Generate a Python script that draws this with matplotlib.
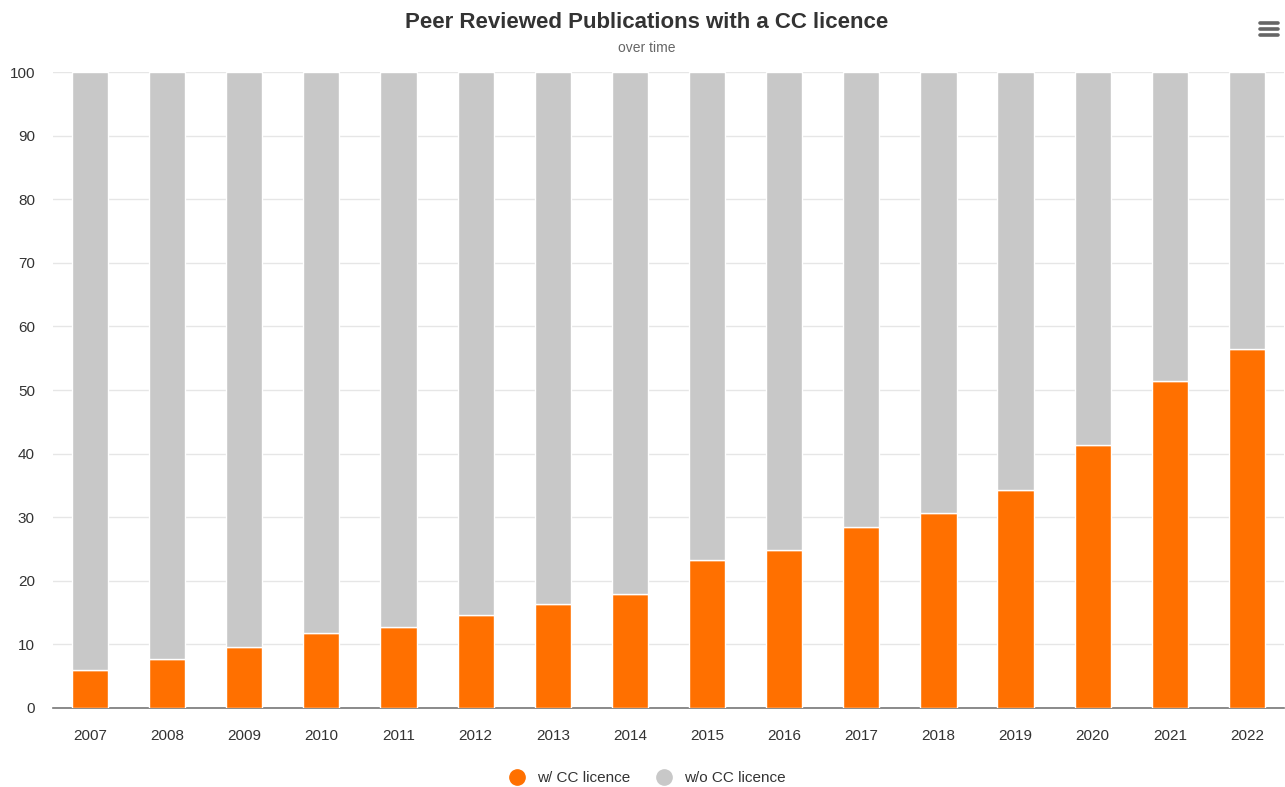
import numpy as np
import matplotlib
matplotlib.use("Agg")
import matplotlib.pyplot as plt
from matplotlib.lines import Line2D

plt.rcParams['font.family'] = ['Liberation Sans', 'DejaVu Sans']

years = ['2007', '2008', '2009', '2010', '2011', '2012', '2013', '2014',
         '2015', '2016', '2017', '2018', '2019', '2020', '2021', '2022']
with_cc = [6.0, 7.7, 9.6, 11.8, 12.7, 14.7, 16.3, 18.0,
           23.2, 24.8, 28.4, 30.6, 34.3, 41.3, 51.4, 56.4]
without_cc = [100 - v for v in with_cc]

orange = '#ff7000'
grey = '#c8c8c8'

fig = plt.figure(figsize=(12.85, 7.87), dpi=100)
ax = fig.add_axes([0.0412, 0.1004, 0.958, 0.808])

x = np.arange(len(years))
ax.bar(x, with_cc, width=0.47, color=orange, edgecolor='white', linewidth=1, zorder=3)
ax.bar(x, without_cc, width=0.47, bottom=with_cc, color=grey, edgecolor='white', linewidth=1, zorder=3)

ax.set_xlim(-0.48, len(years) - 0.52)
ax.set_ylim(0, 100)
ax.set_yticks(range(0, 101, 10))
ax.set_xticks(x)
ax.set_xticklabels(years)
ax.grid(axis='y', color='#e6e6e6', linewidth=1, zorder=0)
for s in ['top', 'right', 'left']:
    ax.spines[s].set_visible(False)
ax.spines['bottom'].set_color('#777777')
ax.spines['bottom'].set_linewidth(1.2)
ax.tick_params(axis='both', length=0, labelsize=11, labelcolor='#333333')
ax.tick_params(axis='x', pad=15)
ax.tick_params(axis='y', pad=13)

fig.text(0.503, 0.971, 'Peer Reviewed Publications with a CC licence',
         ha='center', va='center', fontsize=16, fontweight='bold', color='#333333')
fig.text(0.503, 0.939, 'over time', ha='center', va='center', fontsize=10, color='#666666')

# menu icon
for yy in [0.9555, 0.9632, 0.9708]:
    fig.add_artist(Line2D([0.9805, 0.9945], [yy, yy], color='#666666', linewidth=2.6,
                          solid_capstyle='round'))

handles = [Line2D([], [], marker='o', linestyle='', markersize=11, color=orange),
           Line2D([], [], marker='o', linestyle='', markersize=11, color=grey)]
fig.legend(handles, ['w/ CC licence', 'w/o CC licence'], loc='center',
           bbox_to_anchor=(0.501, 0.011), ncol=2, frameon=False, fontsize=11,
           handletextpad=0.3, columnspacing=1.2, labelcolor='#333333')

fig.savefig('out.png', dpi=100)
